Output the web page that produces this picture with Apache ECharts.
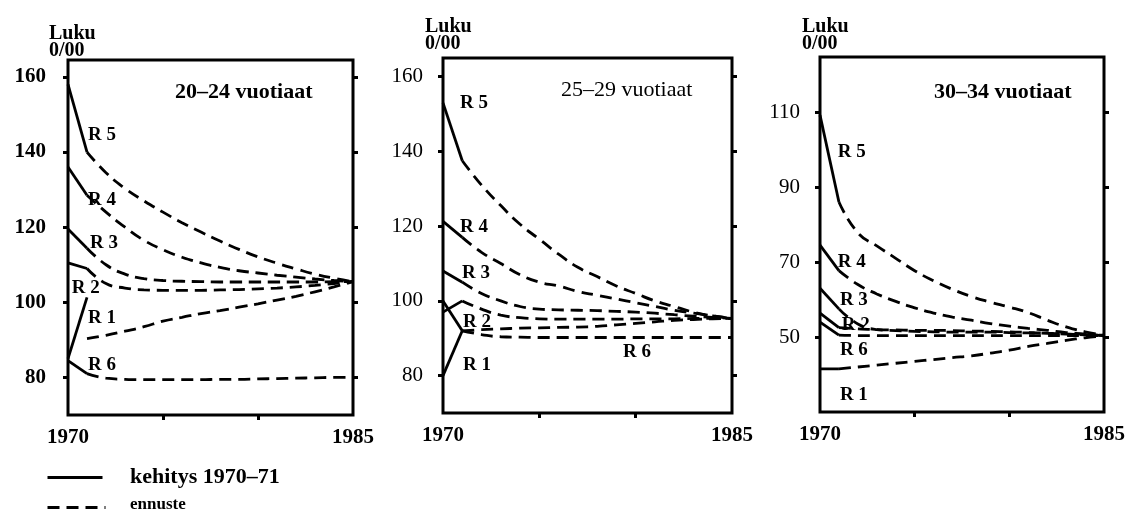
<!DOCTYPE html>
<html>
<head>
<meta charset="utf-8">
<script src="https://cdn.jsdelivr.net/npm/echarts@6/dist/echarts.min.js"></script>
<style>
	html, body { margin: 0; background: #fff; }
	#main { width: 1128px; height: 511px; }
</style>
</head>
<body>
<div id="main"></div>
<script>
	// rows are R 1 ... R 6
	var names = ['R 1', 'R 2', 'R 3', 'R 4', 'R 5', 'R 6'];
	var solidYears = [1970, 1971];
	var forecastYears = [1971, 1972, 1973, 1974, 1975, 1976, 1977, 1978, 1979, 1980, 1981, 1982, 1983, 1984, 1985];
	var xLabels = [1970, 1985];
	var xTicks = [1975, 1980];

	// 20-24 vuotiaat
	var ticks2024 = [80, 100, 120, 140, 160];
	var solid2024 = [[85, 101.3], [110.5, 109], [119.5, 114.4], [136, 128.5], [158, 140], [84.5, 81]];
	var forecast2024 = [
		[90.3, 91.2, 92.3, 93.5, 95, 96, 97, 97.8, 98.7, 99.6, 100.6, 101.6, 102.8, 104.1, 105.5],
		[109, 105, 103.8, 103.3, 103.2, 103.2, 103.2, 103.3, 103.4, 103.6, 103.8, 104.1, 104.5, 105, 105.5],
		[114.4, 110, 107.5, 106.3, 105.8, 105.6, 105.5, 105.4, 105.4, 105.4, 105.4, 105.4, 105.4, 105.5, 105.5],
		[128.5, 124, 120, 116.5, 114, 112, 110.5, 109.3, 108.4, 107.8, 107.2, 106.7, 106.2, 105.8, 105.5],
		[140, 134.5, 130.3, 127, 124, 121.2, 118.7, 116.3, 114.1, 112.1, 110.4, 108.9, 107.5, 106.4, 105.5],
		[81, 79.8, 79.5, 79.4, 79.4, 79.4, 79.4, 79.5, 79.5, 79.6, 79.7, 79.8, 79.9, 80, 80]
	];
	var labelPos2024 = [[1971.05, 95.7], [1970.2, 103.7], [1971.16, 115.7], [1971.05, 127.2], [1971.05, 144.5], [1971.05, 83.2]];

	// 25-29 vuotiaat
	var ticks2529 = [80, 100, 120, 140, 160];
	var solid2529 = [[80, 92], [97, 100], [108, 105], [121.3, 117], [153, 137.5], [100, 92]];
	var forecast2529 = [
		[92, 92.3, 92.5, 92.7, 92.8, 92.9, 93, 93.2, 93.6, 94, 94.4, 94.8, 95, 95.2, 95.3],
		[100, 97.8, 96.2, 95.5, 95.2, 95.1, 95.1, 95.1, 95.1, 95.2, 95.2, 95.2, 95.3, 95.3, 95.3],
		[105, 102, 100, 98.5, 97.8, 97.6, 97.5, 97.4, 97.2, 97, 96.7, 96.3, 95.9, 95.6, 95.3],
		[117, 113, 110, 107, 105, 104, 102.5, 101.5, 100.5, 99.5, 98.5, 97.5, 96.7, 96, 95.3],
		[137.5, 131, 125.5, 120.5, 116.5, 112.5, 109, 106.5, 104, 102, 100, 98.5, 97, 96, 95.3],
		[92, 91, 90.4, 90.3, 90.2, 90.2, 90.2, 90.2, 90.2, 90.2, 90.2, 90.2, 90.2, 90.2, 90.2]
	];
	var labelPos2529 = [[1971.04, 82.9], [1971.04, 94.2], [1970.99, 107.5], [1970.88, 119.8], [1970.88, 153], [1979.34, 86.4]];

	// 30-34 vuotiaat
	var ticks3034 = [50, 70, 90, 110];
	var solid3034 = [[41.5, 41.5], [56.4, 52.5], [63, 57.5], [74.5, 67.7], [109.2, 86], [54, 50.5]];
	var forecast3034 = [
		[41.5, 42, 42.5, 43, 43.5, 44, 44.5, 45, 45.7, 46.5, 47.5, 48.3, 49.1, 49.8, 50.3],
		[52.5, 52.2, 52, 51.9, 51.8, 51.8, 51.7, 51.6, 51.5, 51.4, 51.2, 51, 50.8, 50.6, 50.5],
		[57.5, 53.5, 52, 51.7, 51.5, 51.4, 51.3, 51.3, 51.3, 51.2, 51.1, 51, 50.8, 50.6, 50.5],
		[67.7, 64, 61.5, 59.5, 57.8, 56.4, 55.3, 54.5, 53.6, 52.9, 52.3, 51.8, 51.2, 50.8, 50.3],
		[86, 77.8, 74.3, 71, 67.7, 65, 62.7, 60.8, 59.3, 58, 56.5, 54.5, 52.7, 51.4, 50.5],
		[50.5, 50.4, 50.4, 50.4, 50.4, 50.4, 50.4, 50.4, 50.4, 50.4, 50.4, 50.4, 50.4, 50.4, 50.3]
	];
	var labelPos3034 = [[1971.05, 34.5], [1971.15, 53.2], [1971.05, 59.9], [1970.94, 70], [1970.94, 99.3], [1971.05, 46.5]];

	var font = '"Liberation Serif", "DejaVu Serif", serif';
	var dash = [12, 7];

	var panels = [
		{ grid: { left: 68, top: 60, width: 285, height: 355 }, min: 70, max: 164.5, ticks: ticks2024,
		  solid: solid2024, forecast: forecast2024, labelPos: labelPos2024, weight: 'bold', margin: 22,
		  title: '20\u201324 vuotiaat', titleLeft: 170, titleTop: 76, titleWeight: 'bold', lukuLeft: 44, lukuTop: 20 },
		{ grid: { left: 443, top: 58, width: 289, height: 355 }, min: 70, max: 165, ticks: ticks2529,
		  solid: solid2529, forecast: forecast2529, labelPos: labelPos2529, weight: 'normal', margin: 20,
		  title: '25\u201329 vuotiaat', titleLeft: 556, titleTop: 74, titleWeight: 'normal', lukuLeft: 420, lukuTop: 13 },
		{ grid: { left: 820, top: 57, width: 287, height: 355 }, min: 30, max: 124.7, ticks: ticks3034,
		  solid: solid3034, forecast: forecast3034, labelPos: labelPos3034, weight: 'normal', margin: 20,
		  title: '30\u201334 vuotiaat', titleLeft: 929, titleTop: 76, titleWeight: 'bold', lukuLeft: 797, lukuTop: 13 }
	];

	var grids = [], xAxes = [], yAxes = [], series = [], titles = [];

	panels.forEach(function(p, i) {
		grids.push(Object.assign({ show: true, borderColor: '#000', borderWidth: 3, backgroundColor: 'transparent' }, p.grid));

		xAxes.push({
			type: 'value', gridIndex: i, min: 1970, max: 1985,
			axisLine: { show: false },
			splitLine: { show: false },
			axisTick: { show: true, customValues: xTicks, length: 5, lineStyle: { color: '#000', width: 3 } },
			axisLabel: { customValues: xLabels, margin: 12, color: '#000', fontFamily: font, fontSize: 21, fontWeight: 'bold',
				formatter: function(v) { return String(v); } }
		});

		var yBase = {
			type: 'value', gridIndex: i, min: p.min, max: p.max,
			axisLine: { show: false },
			splitLine: { show: false },
			axisTick: { show: true, customValues: p.ticks, length: 5, lineStyle: { color: '#000', width: 3 } }
		};
		yAxes.push(Object.assign({}, yBase, { position: 'left',
			axisLabel: { customValues: p.ticks, margin: p.margin, color: '#000', fontFamily: font, fontSize: 21, fontWeight: p.weight } }));
		yAxes.push(Object.assign({}, yBase, { position: 'right', axisLabel: { show: false } }));

		for (var r = 0; r < 6; r++) {
			series.push({
				name: 'kehitys 1970\u201371', type: 'line', xAxisIndex: i, yAxisIndex: 2 * i,
				data: solidYears.map(function(y, k) { return [y, p.solid[r][k]]; }),
				symbol: 'none', color: '#000', z: 3,
				lineStyle: { color: '#000', width: 2.8, type: 'solid' }
			});
			series.push({
				name: 'ennuste', type: 'line', xAxisIndex: i, yAxisIndex: 2 * i,
				data: forecastYears.map(function(y, k) { return [y, p.forecast[r][k]]; }),
				symbol: 'none', smooth: true, color: '#000',
				lineStyle: { color: '#000', width: 2.8, type: dash }
			});
		}

		series.push({
			type: 'scatter', xAxisIndex: i, yAxisIndex: 2 * i, symbolSize: 0, z: 5,
			itemStyle: { opacity: 1, color: '#000' },
			data: names.map(function(n, r) { return { name: n, value: p.labelPos[r] }; }),
			label: { show: true, position: 'right', distance: 0, formatter: '{b}', color: '#000', opacity: 1,
				fontFamily: font, fontSize: 19, fontWeight: 'bold' }
		});

		titles.push({ text: p.title, left: p.titleLeft, top: p.titleTop,
			textStyle: { fontFamily: font, fontSize: 22, fontWeight: p.titleWeight, color: '#000' } });
		titles.push({ text: 'Luku\n0/00', left: p.lukuLeft, top: p.lukuTop,
			textStyle: { fontFamily: font, fontSize: 20, fontWeight: 'bold', color: '#000', lineHeight: 17 } });
	});

	// key below the first panel
	var key = [
		{ type: 'line', left: 45, top: 475, shape: { x1: 0, y1: 0, x2: 55, y2: 0 },
		  style: { stroke: '#000', lineWidth: 3 } },
		{ type: 'text', left: 130, top: 466, style: { text: 'kehitys 1970\u201371', fill: '#000',
		  font: 'bold 22px ' + font } },
		{ type: 'line', left: 45, top: 505, shape: { x1: 0, y1: 0, x2: 58, y2: 0 },
		  style: { stroke: '#000', lineWidth: 3, lineDash: [12, 7] } },
		{ type: 'text', left: 130, top: 496, style: { text: 'ennuste', fill: '#000',
		  font: 'bold 17px ' + font } }
	];

	var chart = echarts.init(document.getElementById('main'));
	var option = {
		backgroundColor: '#fff',
		animation: false,
		title: titles,
		graphic: key,
		grid: grids,
		xAxis: xAxes,
		yAxis: yAxes,
		series: series
	};
	chart.setOption(option);
</script>
</body>
</html>
